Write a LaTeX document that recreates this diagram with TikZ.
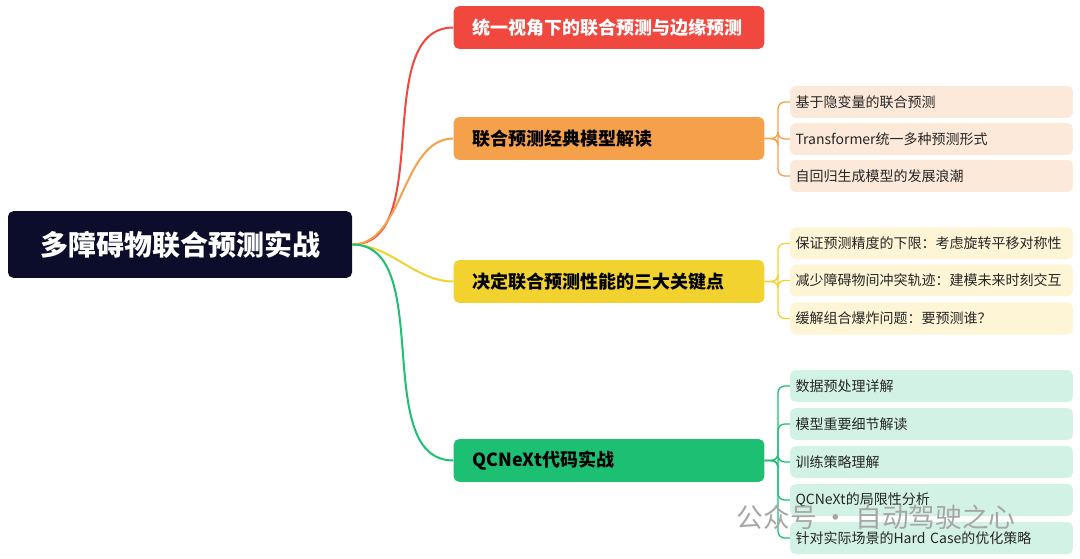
\documentclass[tikz,border=0pt]{standalone}
\usepackage{fontspec}
\setmainfont{Noto Sans CJK SC}
\begin{document}
\begin{tikzpicture}[x=0.75pt,y=-0.75pt,
 box/.style={rounded corners=4pt,inner sep=0pt,anchor=center},
 leaf/.style={box,minimum width=212pt,minimum height=24pt,text width=204pt,align=left,font=\fontsize{10.5}{12}\selectfont,text=black!85},
 br/.style={box,minimum width=233pt,minimum height=32pt,text width=205pt,align=left,font=\fontsize{13.5}{15}\selectfont\bfseries}]
\useasboundingbox (0,0) rectangle (1080,559);
\definecolor{cR}{HTML}{F0483E}\definecolor{cO}{HTML}{F5A04A}\definecolor{cY}{HTML}{F2D22E}\definecolor{cG}{HTML}{1DBF73}
\definecolor{lO}{HTML}{FDE9D9}\definecolor{lY}{HTML}{FDF5D5}\definecolor{lG}{HTML}{D3F2E6}
\node[box,fill={rgb,255:red,11;green,13;blue,42},minimum width=258pt,minimum height=50pt,text=white,font=\fontsize{21}{24}\selectfont\bfseries] (root) at (180,244.5) {多障碍物联合预测实战};
\node[br,fill=cR,text=white] (b1) at (609,27.5) {统一视角下的联合预测与边缘预测};
\node[br,fill=cO,text=black] (b2) at (609,138.5) {联合预测经典模型解读};
\node[br,fill=cY,text=black] (b3) at (609,281.5) {决定联合预测性能的三大关键点};
\node[br,fill=cG,text=black] (b4) at (609,460.5) {QCNeXt代码实战};
\foreach \b/\c in {b1/cR,b2/cO,b3/cY,b4/cG}
 \draw[\c,line width=1.5pt] (root.east) to[out=0,in=180,looseness=0.9] (\b.west);
\foreach \n/\y/\t in {o1/102/基于隐变量的联合预测,o2/139/Transformer统一多种预测形式,o3/176/自回归生成模型的发展浪潮}
 {\node[leaf,fill=lO] (\n) at (931.5,\y) {\t};
  \draw[cO,line width=1pt,rounded corners=5pt] (b2.east) -- (778,138.5) |- (\n.west);}
\foreach \n/\y/\t in {y1/243.5/保证预测精度的下限：考虑旋转平移对称性,y2/280.5/减少障碍物间冲突轨迹：建模未来时刻交互,y3/318.5/缓解组合爆炸问题：要预测谁？}
 {\node[leaf,fill=lY] (\n) at (931.5,\y) {\t};
  \draw[cY,line width=1pt,rounded corners=5pt] (b3.east) -- (778,281.5) |- (\n.west);}
\foreach \n/\y/\t in {g1/386/数据预处理详解,g2/424/模型重要细节解读,g3/462/训练策略理解,g4/500/QCNeXt的局限性分析,g5/538/针对实际场景的Hard Case的优化策略}
 {\node[leaf,fill=lG] (\n) at (931.5,\y) {\t};
  \draw[cG,line width=1pt,rounded corners=5pt] (b4.east) -- (778,460.5) |- (\n.west);}
\node[anchor=west,text=black!35,font=\fontsize{20}{22}\selectfont] (wm) at (732,517) {公众号 · 自动驾驶之心};
\end{tikzpicture}
\end{document}
